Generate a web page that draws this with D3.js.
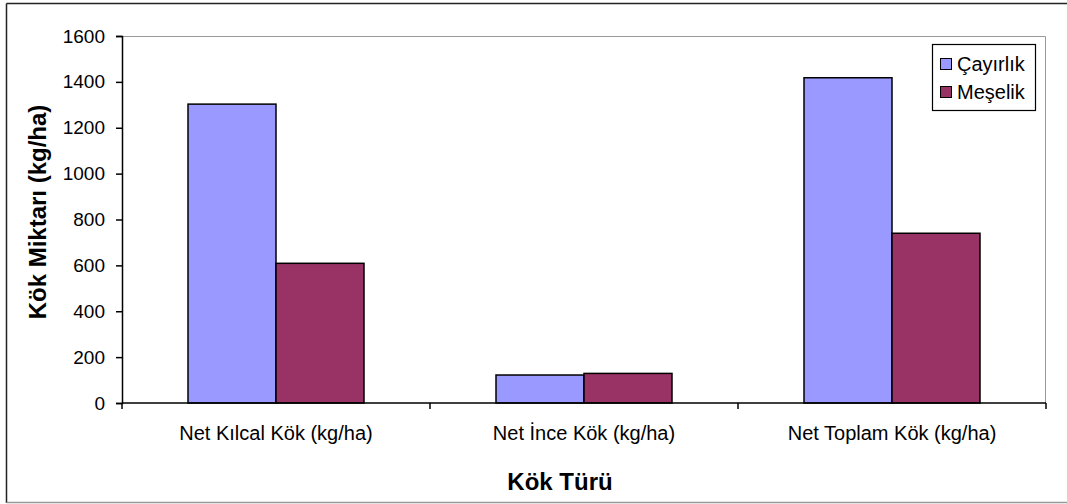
<!DOCTYPE html>
<html>
<head>
<meta charset="utf-8">
<script src="https://cdn.jsdelivr.net/npm/d3@7"></script>
<style>
  html, body { margin: 0; padding: 0; background: #fff; }
  svg { display: block; font-family: Arial, "Liberation Sans", sans-serif; }
</style>
</head>
<body>
<svg id="chart" width="1067" height="504"></svg>
<script>
// Root amounts by root type and site
const categories = ["Net Kılcal Kök (kg/ha)", "Net İnce Kök (kg/ha)", "Net Toplam Kök (kg/ha)"];
const seriesNames = ["Çayırlık", "Meşelik"];
const cayirlik = [1303, 122, 1418];
const meselik = [609, 129, 740];
const yTicks = [0, 200, 400, 600, 800, 1000, 1200, 1400, 1600];
const colors = ["#9999FF", "#993366"];

const svg = d3.select("#chart");
const W = 1067, H = 504;
const plot = { left: 122, right: 1046, top: 36, bottom: 403 };

// outer frame
svg.append("line").attr("x1", 6.5).attr("y1", 3.5).attr("x2", W).attr("y2", 3.5)
  .attr("stroke", "#222").attr("stroke-width", 1.5);
svg.append("line").attr("x1", 6.5).attr("y1", 3.5).attr("x2", 6.5).attr("y2", 503)
  .attr("stroke", "#222").attr("stroke-width", 1.5);
svg.append("line").attr("x1", 6.5).attr("y1", 502.5).attr("x2", W).attr("y2", 502.5)
  .attr("stroke", "#999").attr("stroke-width", 1.5);

const x0 = d3.scaleBand().domain(categories).range([plot.left, plot.right]).padding(0);
const x1 = d3.scaleBand().domain(seriesNames).range([0, x0.bandwidth()])
  .paddingInner(0).paddingOuter(0.75);
const y = d3.scaleLinear().domain([0, 1600]).range([plot.bottom, plot.top]);

// plot area border (top and right)
svg.append("path")
  .attr("d", `M${plot.left},${plot.top + 0.5}H${plot.right - 0.5}V${plot.bottom}`)
  .attr("fill", "none").attr("stroke", "#999").attr("stroke-width", 1);

const rows = categories.map((c, i) => ({ cat: c, vals: [cayirlik[i], meselik[i]] }));

// bars
const groups = svg.append("g").selectAll("g").data(rows).join("g")
  .attr("transform", d => `translate(${x0(d.cat)},0)`);
groups.selectAll("rect")
  .data(d => d.vals.map((v, j) => ({ name: seriesNames[j], v, j })))
  .join("rect")
  .attr("x", d => x1(d.name))
  .attr("y", d => y(d.v))
  .attr("width", x1.bandwidth())
  .attr("height", d => y(0) - y(d.v))
  .attr("fill", d => colors[d.j])
  .attr("stroke", "#000")
  .attr("stroke-width", 1.5);

// y axis
const yAxis = svg.append("g").attr("transform", `translate(${plot.left},0)`)
  .call(d3.axisLeft(y).tickValues(yTicks).tickSize(6).tickPadding(11).tickFormat(d3.format("d")));
yAxis.select(".domain").attr("stroke", "#000").attr("stroke-width", 1.5);
yAxis.selectAll(".tick line").attr("stroke", "#000").attr("stroke-width", 1.5);
yAxis.selectAll(".tick text").attr("font-size", 19).attr("fill", "#000")
  .attr("font-family", "Arial, 'Liberation Sans', sans-serif");

// x axis: ticks between categories
const bounds = categories.map(c => x0(c)).concat([plot.right]);
const xAxis = svg.append("g");
xAxis.append("line").attr("x1", plot.left).attr("x2", plot.right)
  .attr("y1", plot.bottom).attr("y2", plot.bottom)
  .attr("stroke", "#000").attr("stroke-width", 1.5);
xAxis.selectAll(".xt").data(bounds).join("line")
  .attr("x1", d => d).attr("x2", d => d)
  .attr("y1", plot.bottom).attr("y2", plot.bottom + 6)
  .attr("stroke", "#000").attr("stroke-width", 1.5);
xAxis.selectAll(".xl").data(categories).join("text")
  .attr("x", d => x0(d) + x0.bandwidth() / 2)
  .attr("y", 440)
  .attr("text-anchor", "middle")
  .attr("font-size", 20)
  .attr("fill", "#000")
  .text(d => d);

// axis titles
svg.append("text")
  .attr("x", 560).attr("y", 490)
  .attr("text-anchor", "middle")
  .attr("font-size", 24).attr("font-weight", "bold")
  .text("Kök Türü");
svg.append("text")
  .attr("transform", "translate(46,212) rotate(-90)")
  .attr("text-anchor", "middle")
  .attr("font-size", 24).attr("font-weight", "bold")
  .text("Kök Miktarı (kg/ha)");

// legend
const lg = svg.append("g");
lg.append("rect").attr("x", 932.5).attr("y", 44.5).attr("width", 103).attr("height", 66)
  .attr("fill", "#fff").attr("stroke", "#000").attr("stroke-width", 1.2);
const items = lg.selectAll(".li").data(seriesNames).join("g")
  .attr("transform", (d, i) => `translate(0,${i * 28})`);
items.append("rect")
  .attr("x", 940.5).attr("y", 58.5).attr("width", 11).attr("height", 11)
  .attr("fill", (d, i) => colors[i]).attr("stroke", "#000").attr("stroke-width", 1);
items.append("text")
  .attr("x", 957).attr("y", 70.5)
  .attr("font-size", 20).attr("fill", "#000")
  .text(d => d);
</script>
</body>
</html>
